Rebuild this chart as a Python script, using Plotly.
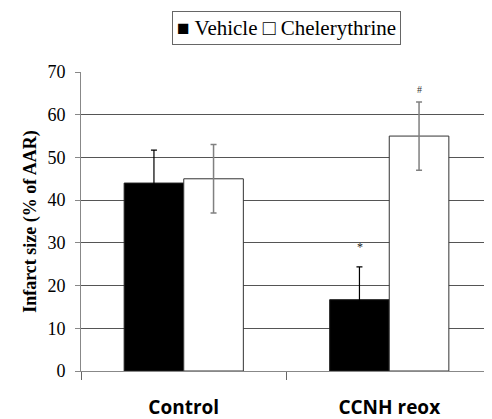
import plotly.graph_objects as go

categories = ["Control", "CCNH reox"]
vehicle = [44, 16.7]
vehicle_err = [7.7, 7.7]
chelerythrine = [45, 55]
chelerythrine_err = [8, 8]
y_ticks = [0, 10, 20, 30, 40, 50, 60, 70]
legend_labels = ["Vehicle", "Chelerythrine"]

serif = "Liberation Serif, Times New Roman, serif"

fig = go.Figure()
fig.add_trace(go.Bar(
    name=legend_labels[0], x=categories, y=vehicle, showlegend=False,
    marker=dict(color="black", line=dict(color="#222", width=1)),
    error_y=dict(type="data", array=vehicle_err, color="black", thickness=1.2, width=3),
))
fig.add_trace(go.Bar(
    name=legend_labels[1], x=categories, y=chelerythrine, showlegend=False,
    marker=dict(color="white", line=dict(color="#333", width=1)),
    error_y=dict(type="data", array=chelerythrine_err, color="#808080", thickness=1.5, width=3),
))

fig.add_annotation(x="CCNH reox", y=vehicle[1] + vehicle_err[1] + 4.6, text="*",
                   xshift=-29, showarrow=False, font=dict(family=serif, size=12, color="#222"))
fig.add_annotation(x="CCNH reox", y=chelerythrine[1] + chelerythrine_err[1] + 3.0, text="#",
                   xshift=30, showarrow=False, font=dict(family=serif, size=10, color="#333"))

# legend box (square glyphs as in the original figure)
fig.add_annotation(
    xref="paper", yref="paper", x=0.5, y=1.205, xanchor="center", yanchor="top",
    text="■ " + legend_labels[0] + " □ " + legend_labels[1],
    showarrow=False, bordercolor="#666", borderwidth=1, borderpad=4,
    font=dict(family=serif, size=21, color="black"),
)

fig.update_layout(
    width=484, height=411,
    margin=dict(l=73, r=0, t=64, b=48),
    paper_bgcolor="white", plot_bgcolor="white",
    barmode="group", bargap=0.42, bargroupgap=0,
    showlegend=False,
    font=dict(family=serif, color="black"),
)
fig.update_yaxes(
    range=[0, 70], tickvals=y_ticks, showgrid=True, gridcolor="#555", gridwidth=1,
    showline=True, linecolor="#888", linewidth=1, ticks="outside", ticklen=5, tickcolor="#888",
    tickfont=dict(family=serif, size=18, color="black"), ticklabelstandoff=6,
    title=dict(text="<b>Infarct size (% of AAR)</b>", font=dict(family=serif, size=18, color="black"), standoff=6),
    zeroline=False, automargin=False,
)
fig.update_xaxes(
    showline=True, linecolor="#888", linewidth=1, ticks="outside", ticklen=8, tickcolor="#666",
    tickson="boundaries", showgrid=False,
    tickfont=dict(family="Open Sans", size=19, color="black"),
    tickprefix="<b>", ticksuffix="</b>", ticklabelstandoff=19, automargin=False,
)

fig.write_html("out.html")
